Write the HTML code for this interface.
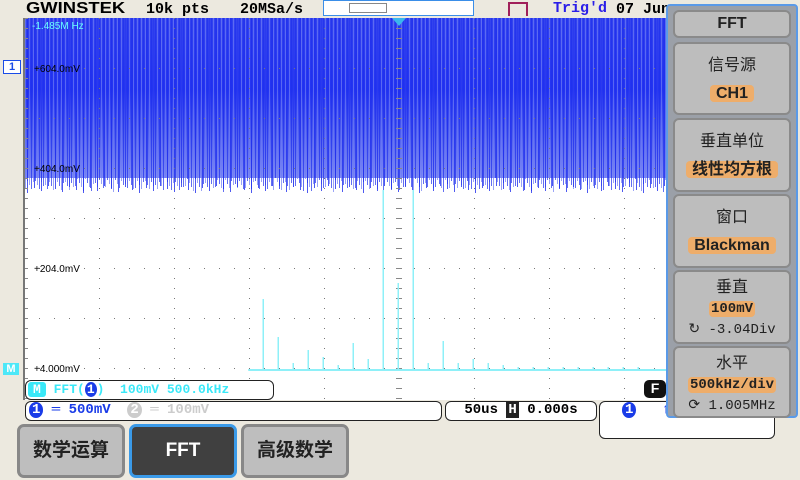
<!DOCTYPE html>
<html><head><meta charset="utf-8"><style>
body{margin:0;width:800px;height:480px;overflow:hidden;background:#ece9df;font-family:"Liberation Mono","Noto Sans CJK SC",monospace;position:relative}
.abs{position:absolute}
.menu{position:absolute;left:666px;top:4px;width:132px;height:414px;background:#9ba0a8;border:2px solid #5a9ae8;border-radius:4px;box-sizing:border-box}
.pn{position:absolute;left:5px;width:118px;background:#bdbdbd;border:2px solid #8a8a8a;border-radius:6px;box-sizing:border-box;text-align:center;font-family:"Liberation Sans","Noto Sans CJK SC",sans-serif;color:#222;font-size:16px}
.hl{background:#eead6a;border-radius:4px;padding:0 6px;font-weight:bold}
.bar{position:absolute;background:#fff;border:1.5px solid #222;border-radius:6px;box-sizing:border-box;font-weight:bold;font-size:14px;white-space:nowrap;overflow:hidden}
.btn{position:absolute;top:424px;height:54px;border:3px solid #888;border-radius:7px;box-sizing:border-box;background:#bebebe;font-family:"Liberation Sans","Noto Sans CJK SC",sans-serif;font-size:19px;color:#222;text-align:center;line-height:48px;font-weight:bold}
</style></head><body>
<div class="abs" style="left:26px;top:0px;font:bold 16px 'Liberation Sans',sans-serif;letter-spacing:0px;transform:scaleX(1.15);transform-origin:left">GWINSTEK</div>
<div class="abs" style="left:146px;top:1px;font:bold 15px 'Liberation Mono',monospace">10k pts</div>
<div class="abs" style="left:240px;top:1px;font:bold 15px 'Liberation Mono',monospace">20MSa/s</div>
<div class="abs" style="left:323px;top:0;width:149px;height:14px;border:1px solid #3a8ee8;background:#fff"><div style="position:absolute;left:25px;top:2px;width:36px;height:8px;border:1px solid #888"></div></div>
<div class="abs" style="left:508px;top:2px;width:16px;height:12px;border:2px solid #a0205a;border-bottom:none"></div>
<div class="abs" style="left:553px;top:0;font:bold 15px 'Liberation Mono',monospace;color:#2a1ee8">Trig'd</div>
<div class="abs" style="left:616px;top:1px;font:bold 15px 'Liberation Mono',monospace">07 Jun</div>

<svg class="abs" style="left:0;top:0" width="800" height="480">
<defs><linearGradient id="g" x1="0" y1="0" x2="0" y2="1"><stop offset="0" stop-color="#3444ee"/><stop offset="0.45" stop-color="#2233f2"/><stop offset="0.7" stop-color="#4a5af0"/><stop offset="1" stop-color="#7f8af4"/></linearGradient></defs>
<rect x="24" y="18" width="750" height="382" fill="#fff"/>
<rect x="24" y="18" width="750" height="160" fill="url(#g)"/>
<g id="noise"></g>
<g id="grid"></g>
<line x1="24" y1="18" x2="24" y2="400" stroke="#777" stroke-width="2"/>
<polygon points="392,18 406,18 399,26" fill="#3ab6ee"/>
<g id="spikes"></g>
<text x="32" y="29" font-family="Liberation Sans" font-size="10" fill="#6ff">-1.485M Hz</text>
<text x="34" y="72" font-family="Liberation Sans" font-size="10" fill="#000">+604.0mV</text>
<text x="34" y="172" font-family="Liberation Sans" font-size="10" fill="#000">+404.0mV</text>
<text x="34" y="272" font-family="Liberation Sans" font-size="10" fill="#000">+204.0mV</text>
<text x="34" y="372" font-family="Liberation Sans" font-size="10" fill="#000">+4.000mV</text>
</svg>
<div class="abs" style="left:3px;top:60px;width:16px;height:12px;border:1px solid #1a4ce8;background:#fff;color:#1a4ce8;font:bold 11px 'Liberation Sans';text-align:center;line-height:12px">1</div>
<div class="abs" style="left:3px;top:363px;width:16px;height:12px;background:#4de8f8;color:#fff;font:bold 11px 'Liberation Sans';text-align:center;line-height:12px">M</div>

<div class="bar" style="left:25px;top:380px;width:249px;height:20px;color:#3ae8f8;line-height:17px;padding-left:2px;font-size:13px"><span style="background:#3ae8f8;color:#fff;padding:0 5px;border-radius:3px">M</span> FFT(<span style="background:#1a3ce8;color:#fff;border-radius:50%;padding:0 2px">1</span>) &nbsp;100mV 500.0kHz</div>
<div class="bar" style="left:25px;top:401px;width:417px;height:20px;line-height:17px;padding-left:3px;color:#1a3ce8"><span style="background:#1a3ce8;color:#fff;border-radius:50%;padding:0 3px">1</span> ═ 500mV &nbsp;<span style="color:#ccc"><span style="background:#ccc;color:#fff;border-radius:50%;padding:0 3px">2</span> ═ 100mV</span></div>
<div class="bar" style="left:445px;top:401px;width:152px;height:20px;line-height:17px;text-align:center">50us <span style="background:#222;color:#fff;padding:0 2px">H</span> 0.000s</div>
<div class="bar" style="left:599px;top:401px;width:176px;height:38px;padding-left:22px;color:#1a3ce8"><span style="background:#1a3ce8;color:#fff;border-radius:50%;padding:0 3px">1</span> &nbsp; ↑</div>
<div class="abs" style="left:644px;top:380px;width:22px;height:18px;background:#111;border-radius:5px;color:#fff;font:bold 14px 'Liberation Sans';text-align:center">F</div>

<div class="menu">
<div class="pn" style="top:4px;height:28px;line-height:24px;font-weight:bold;font-size:16px">FFT</div>
<div class="pn" style="top:36px;height:73px;padding-top:8px;line-height:28px">信号源<br><span class="hl">CH1</span></div>
<div class="pn" style="top:112px;height:74px;padding-top:8px;line-height:28px">垂直单位<br><span class="hl">线性均方根</span></div>
<div class="pn" style="top:188px;height:74px;padding-top:8px;line-height:28px">窗口<br><span class="hl">Blackman</span></div>
<div class="pn" style="top:264px;height:74px;padding-top:6px;line-height:20px">垂直<br><span class="hl" style="font-family:'Liberation Mono';font-size:14px;padding:0 2px">100mV</span><br><span style="font-family:'Liberation Mono';font-size:14px">↻ -3.04Div</span></div>
<div class="pn" style="top:340px;height:72px;padding-top:6px;line-height:20px">水平<br><span class="hl" style="font-family:'Liberation Mono';font-size:14px;padding:0 2px">500kHz/div</span><br><span style="font-family:'Liberation Mono';font-size:14px">⟳ 1.005MHz</span></div>
</div>

<div class="btn" style="left:17px;width:108px">数学运算</div>
<div class="btn" style="left:129px;width:108px;background:#404040;color:#fff;border-color:#3a9ae8">FFT</div>
<div class="btn" style="left:241px;width:108px">高级数学</div>

<script>
const freqsMHz=[0.1,0.2,0.3,0.4,0.5,0.6,0.7,0.8,0.9,1.0,1.1,1.2,1.3,1.4,1.5,1.6,1.7,1.8,1.9,2.0,2.1,2.2,2.3,2.4,2.5,2.6];
const ampsMV=[142,66,14,40,26,10,54,22,360,174,360,14,58,14,22,14,10,6,6,6,6,6,6,6,6,6];
const NS="http://www.w3.org/2000/svg";
const xOf=f=>399+(f-1.005)/0.5*75;
const yOf=mv=>370-mv/2;
const grid=document.getElementById('grid');
let gs='';
for(let i=1;i<10;i++){const x=24+i*75;for(let y=18;y<400;y+=10)gs+=`<rect x="${x}" y="${y}" width="1" height="1" fill="#777"/>`;}
for(let j=1;j<8;j++){const y=18+j*50;for(let x=24;x<774;x+=15)gs+=`<rect x="${x}" y="${y}" width="1" height="1" fill="#777"/>`;}
for(let y=18;y<400;y+=10)gs+=`<rect x="396" y="${y}" width="6" height="1" fill="#888"/>`;
for(let y=18;y<400;y+=10)gs+=`<rect x="24" y="${y}" width="4" height="1" fill="#888"/>`;
grid.innerHTML=gs;
const nz=document.getElementById('noise');let ns='';
for(let x=25;x<774;x+=2){const h=(x*7)%11;ns+=`<rect x="${x}" y="18" width="1" height="${160+h+((x*3)%5)}" fill="${(x%4<2)?'#6f7cf4':'#2030ec'}" opacity="0.7"/>`;}
for(let x=27;x<774;x+=7){ns+=`<rect x="${x}" y="18" width="1" height="${168+(x*5)%8}" fill="#2030ec" opacity="0.8"/>`;}
nz.innerHTML=ns;
const sp=document.getElementById('spikes');
const base=document.createElementNS(NS,'line');
base.setAttribute('x1',xOf(0));base.setAttribute('x2',774);base.setAttribute('y1',yOf(0));base.setAttribute('y2',yOf(0));
base.setAttribute('stroke','#8ef0f8');base.setAttribute('stroke-width','2');


sp.appendChild(base);
freqsMHz.forEach((f,i)=>{
 const l=document.createElementNS(NS,'line');
 l.setAttribute('x1',xOf(f));l.setAttribute('x2',xOf(f));
 l.setAttribute('y1',yOf(0));l.setAttribute('y2',yOf(ampsMV[i]));
 l.setAttribute('stroke','#8ef0f8');l.setAttribute('stroke-width','1.5');
 
 
 sp.appendChild(l);
});
</script>
</body></html>
